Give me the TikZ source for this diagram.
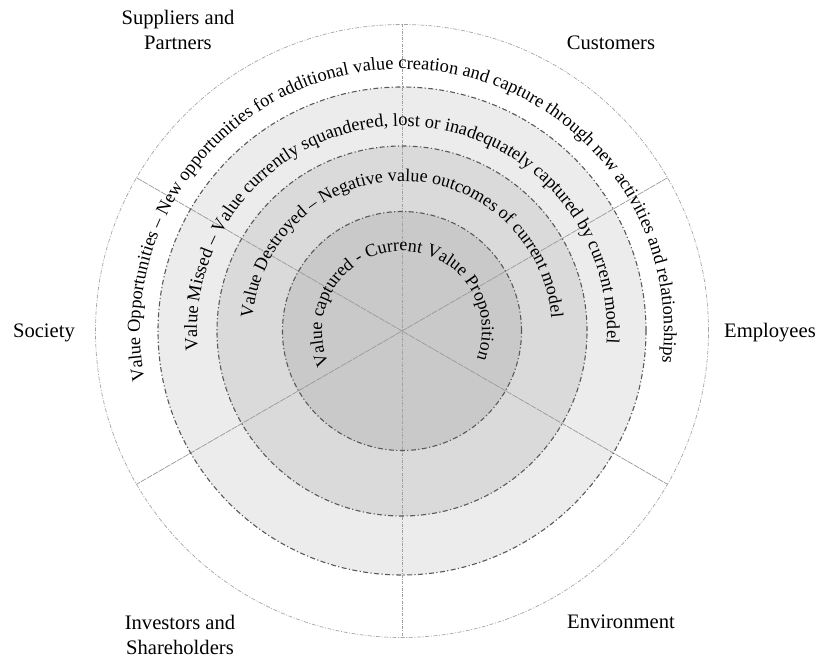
\documentclass[tikz,border=0pt]{standalone}
\usepackage{fontspec}
\setmainfont{Liberation Serif}
\usetikzlibrary{decorations.text}

\newcommand{\ringfont}{\fontsize{9}{11}\selectfont}
\newcommand{\ringfontbig}{\fontsize{9.2}{11}\selectfont}
\definecolor{ringA}{gray}{0.925}
\definecolor{ringB}{gray}{0.855}
\definecolor{ringC}{gray}{0.79}

\tikzset{
  outerline/.style={draw=gray!70, line width=0.35pt, dash pattern=on 2pt off 0.8pt on 0.5pt off 0.8pt},
  ringline/.style={draw=black!65, line width=0.55pt, dash pattern=on 2.5pt off 1.2pt on 0.6pt off 1.2pt},
  axisline/.style={draw=gray!75, line width=0.4pt, dash pattern=on 1.5pt off 0.6pt on 0.5pt off 0.6pt},
  spoke/.style={draw=gray!80, line width=0.35pt, dash pattern=on 3pt off 0.5pt},
  stake/.style={align=center, font=\fontsize{10.3}{12.5}\selectfont},
  ringtext/.style={decorate, decoration={text along path, text align=center, text={#1}}}
}

\begin{document}
\begin{tikzpicture}[x=1pt, y=1pt]
    \useasboundingbox (-201,-163.5) rectangle (208,165.5);
    \coordinate (O) at (0,0);
    \foreach \a/\n in {90/top, 270/bot, 30/ne, 210/sw, 150/nw, 330/se}
      \coordinate (s\n) at (\a:153.25);

    % rings
    \fill[ringA] (O) circle[radius=122];
    \fill[ringB] (O) circle[radius=92.5];
    \fill[ringC] (O) circle[radius=59.75];

    % spokes
    \draw[axisline] (stop) -- (sbot);
    \draw[spoke] (sne) -- (ssw);
    \draw[spoke] (snw) -- (sse);

    \draw[outerline] (O) circle[radius=153.25];
    \draw[ringline] (O) circle[radius=122];
    \draw[ringline] (O) circle[radius=92.5];
    \draw[ringline] (O) circle[radius=59.75];

    % texts along the rings
    \path[ringtext={|\ringfontbig|Value Opportunities – New opportunities for additional value creation and capture through new activities and relationships}]
      (224:131) arc[start angle=224, end angle=-40, radius=131];
    \path[ringtext={|\ringfontbig|Value Missed – Value currently squandered, lost or inadequately captured by current model}]
      (222:102.5) arc[start angle=222, end angle=-40, radius=102.5];
    \path[ringtext={|\ringfont|Value Destroyed – Negative value outcomes of current model}]
      (220:75) arc[start angle=220, end angle=-40, radius=75];
    \path[ringtext={|\ringfont|Value captured - Current Value Proposition}]
      (222:40) arc[start angle=222, end angle=-38, radius=40];

    % stakeholders
    \node[stake] (sup) at (-112,150.5) {Suppliers and\\Partners};
    \node[stake] (cust) at (104.5,144) {Customers};
    \node[stake] (soc) at (-179,-1) {Society};
    \node[stake] (emp) at (184,-1) {Employees};
    \node[stake] (inv) at (-111,-152) {Investors and\\Shareholders};
    \node[stake] (env) at (109.5,-145.5) {Environment};
\end{tikzpicture}
\end{document}
